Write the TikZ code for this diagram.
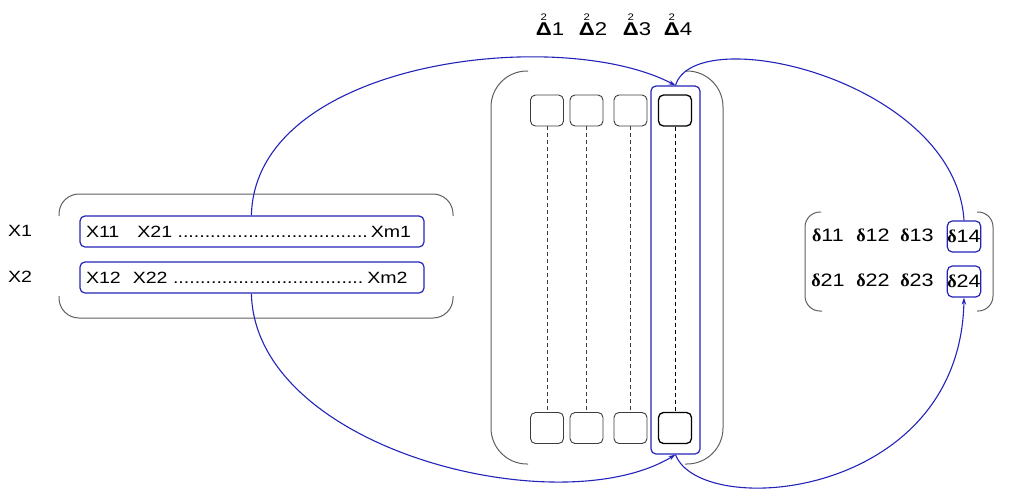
\documentclass[tikz,border=0pt]{standalone}
\usepackage{fontspec}
\setmainfont{Liberation Sans}[FakeStretch=1.2]
\newfontfamily\dfont{Liberation Serif}
\usetikzlibrary{arrows.meta}
\definecolor{lnblue}{RGB}{35,35,185}
\definecolor{brgray}{RGB}{95,95,95}
\definecolor{bxgray}{RGB}{60,60,60}
\newcommand{\dlab}[1]{\begingroup\setbox0=\hbox{\bfseries Δ}\rlap{\hbox to \wd0{\hss\raisebox{0.8em}[0pt][0pt]{\fontsize{9.5}{9.5}\selectfont 2}\hss}}\box0\endgroup #1}
\newcommand{\dd}[1]{{\dfont\bfseries δ}#1}
\begin{document}
\begin{tikzpicture}[x=1pt,y=-1pt,
 every node/.style={font=\fontsize{16.3}{19}\selectfont},
 cellbox/.style={draw=bxgray, line width=0.9pt, rounded corners=5pt, minimum width=33pt, minimum height=31pt, inner sep=0pt},
 selbox/.style={cellbox, draw=black, line width=1.3pt},
 bluebox/.style={draw=lnblue, line width=1.2pt, rounded corners=5pt},
 bracketline/.style={draw=brgray, line width=1pt},
 link/.style={draw=lnblue, line width=1.1pt},
 tip/.style={-{Stealth[length=7pt,width=4.5pt]}},
 txt/.style={inner sep=0pt},
 dtxt/.style={inner sep=0pt, font=\fontsize{18}{20}\selectfont},
 coltxt/.style={inner sep=0pt, font=\fontsize{18.5}{20}\selectfont},
 vdash/.style={dashed, dash pattern=on 4pt off 3pt, line width=0.8pt},
]
\useasboundingbox (0,0) rectangle (1016,501);

% column labels
\node[coltxt] (D1) at (550,29) {\dlab{1}};
\node[coltxt] (D2) at (593,29) {\dlab{2}};
\node[coltxt] (D3) at (637,29) {\dlab{3}};
\node[coltxt] (D4) at (678,29) {\dlab{4}};

% middle bracket
\draw[bracketline, rounded corners=36pt] (528,71) -- (491,71) -- (491,464) -- (528,464);
\draw[bracketline, rounded corners=36pt] (685,71) -- (723,71) -- (723,464) -- (685,464);

% highlight of column 4
\node[bluebox, minimum width=49pt, minimum height=368pt, inner sep=0pt] (sel) at (675.5,270) {};

% cells
\node[cellbox] (t1) at (547,110.5) {};
\node[cellbox] (t2) at (586.5,110.5) {};
\node[cellbox] (t3) at (630.5,110.5) {};
\node[selbox] (t4) at (675,110.5) {};
\node[cellbox] (b1) at (547,428) {};
\node[cellbox] (b2) at (586.5,428) {};
\node[cellbox] (b3) at (630.5,428) {};
\node[selbox] (b4) at (675,428) {};
\draw[vdash, bxgray] (t1.south) -- (b1.north);
\draw[vdash, bxgray] (t2.south) -- (b2.north);
\draw[vdash, bxgray] (t3.south) -- (b3.north);
\draw[vdash, black] (t4.south) -- (b4.north);

% left frame
\draw[bracketline, rounded corners=20pt] (59,216) -- (59,194) -- (453,194) -- (453,216);
\draw[bracketline, rounded corners=20pt] (59,296) -- (59,318) -- (453,318) -- (453,296);
\node[txt] (x1) at (20,231) {X1};
\node[txt] (x2) at (20,277) {X2};
\node[bluebox, minimum width=344pt, minimum height=31pt, text width=332pt, inner xsep=6pt, inner ysep=0pt, align=left] (r1) at (252,231.5) {X11\hspace{18pt}X21 ...................................\hspace{3pt}Xm1};
\node[bluebox, minimum width=344pt, minimum height=31pt, text width=332pt, inner xsep=6pt, inner ysep=0pt, align=left] (r2) at (252,277.5) {X12\hspace{12pt}X22 ...................................\hspace{4pt}Xm2};

% right matrix
\draw[bracketline, rounded corners=15pt] (821,212) -- (805,212) -- (805,311) -- (822,311);
\draw[bracketline, rounded corners=15pt] (977,212) -- (993,212) -- (993,311) -- (977,311);
\node[dtxt] (e11) at (828,235) {\dd{11}};
\node[dtxt] (e12) at (873,235) {\dd{12}};
\node[dtxt] (e13) at (917,235) {\dd{13}};
\node[dtxt] (e21) at (828,280) {\dd{21}};
\node[dtxt] (e22) at (873,280) {\dd{22}};
\node[dtxt] (e23) at (917,280) {\dd{23}};
\node[bluebox, dtxt, minimum width=32pt, minimum height=31pt] (e14) at (964,236.5) {\dd{14}};
\node[bluebox, dtxt, minimum width=32pt, minimum height=31pt] (e24) at (964,281.5) {\dd{24}};

% connectors
\draw[link, tip] ([xshift=172pt]r1.north west) .. controls (255,60) and (560,25) .. (sel.north);
\draw[link] (sel.north) .. controls (695,20) and (955,80) .. (e14.north);
\draw[link, tip] ([xshift=172pt]r2.south west) .. controls (255,450) and (560,525) .. (sel.south);
\draw[link, tip] (sel.south) .. controls (700,520) and (960,500) .. (e24.south);
\end{tikzpicture}
\end{document}
